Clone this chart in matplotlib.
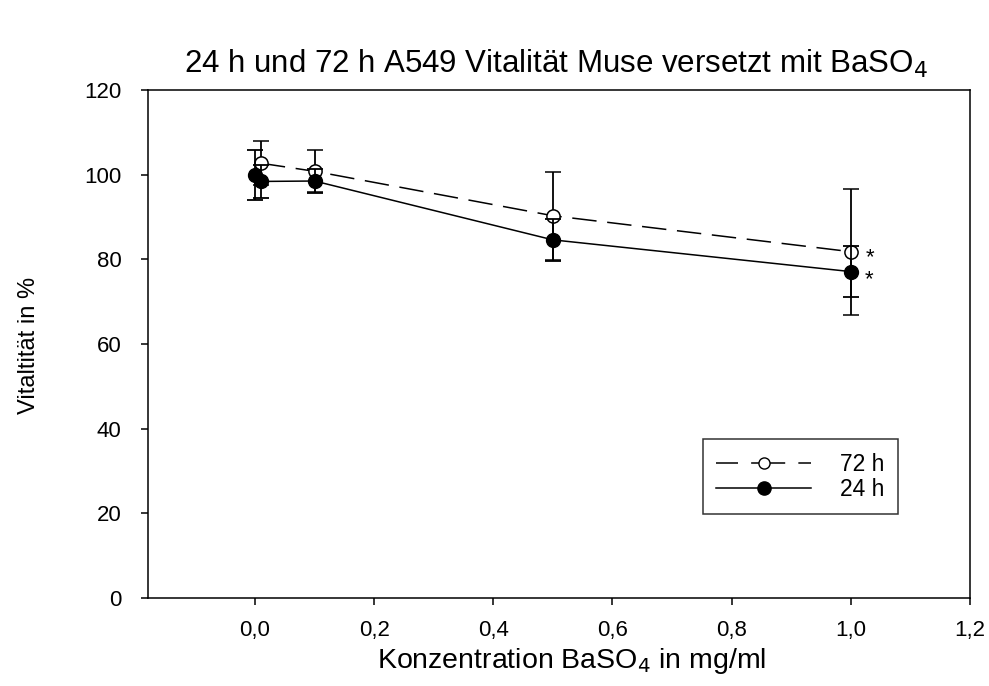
import matplotlib
matplotlib.use("Agg")
import matplotlib.pyplot as plt
from matplotlib.lines import Line2D

plt.rcParams['font.family'] = ['Liberation Sans', 'DejaVu Sans']

# Concentration (mg/ml) and viability (%) with standard deviations
conc_72h = [0.01, 0.1, 0.5, 1.0]
vital_72h = [102.7, 100.8, 90.3, 81.8]
err_72h = [5.2, 5.0, 10.4, 14.9]

conc_24h = [0.0, 0.01, 0.1, 0.5, 1.0]
vital_24h = [100.0, 98.4, 98.5, 84.6, 77.1]
err_24h = [5.9, 3.9, 2.9, 4.9, 6.1]

xticks = [0.0, 0.2, 0.4, 0.6, 0.8, 1.0, 1.2]
xtick_labels = ["0,0", "0,2", "0,4", "0,6", "0,8", "1,0", "1,2"]
yticks = [0, 20, 40, 60, 80, 100, 120]

fig = plt.figure(figsize=(9.89, 6.86), dpi=100)
ax = fig.add_axes([0.1493, 0.1283, 0.8315, 0.7405])

ax.errorbar(conc_72h, vital_72h, yerr=err_72h, color='black', lw=1.1,
            dashes=(16, 7), marker='o', ms=9.5, mfc='white', mec='black',
            mew=1.1, ecolor='black', elinewidth=1.3, capsize=6, capthick=1.3,
            zorder=2)
ax.errorbar(conc_24h, vital_24h, yerr=err_24h, color='black', lw=1.1,
            ls='-', marker='o', ms=10, mfc='black', mec='black',
            ecolor='black', elinewidth=1.3, capsize=6, capthick=1.3,
            zorder=3)

# significance marks
ax.annotate('*', xy=(conc_72h[-1], vital_72h[-1]), xytext=(11, -4),
            textcoords='offset points', fontsize=16, ha='left', va='center')
ax.annotate('*', xy=(conc_24h[-1], vital_24h[-1]), xytext=(10, -6),
            textcoords='offset points', fontsize=16, ha='left', va='center')

ax.set_xlim(-0.18, 1.2)
ax.set_ylim(0, 120)
ax.set_xticks(xticks)
ax.set_xticklabels(xtick_labels)
ax.set_yticks(yticks)
ax.tick_params(direction='out', length=5, width=1.1, top=False, right=False)
ax.tick_params(axis='x', pad=11, labelsize=16)
ax.tick_params(axis='y', pad=14, labelsize=16)
for s in ax.spines.values():
    s.set_linewidth(1.1)

fig.text(0.578, 1 - 661 / 686, 'Konzentration BaSO$_4$ in mg/ml',
         ha='center', va='center', fontsize=20.5)
fig.text(29 / 989, 1 - 345 / 686, 'Vitaltität in %', rotation=90,
         ha='center', va='center', fontsize=17)
fig.text(0.562, 0.907, '24 h und 72 h A549 Vitalität Muse versetzt mit BaSO$_4$',
         ha='center', va='center', fontsize=22.5)

# legend keys: symmetric dash layout around the marker
handles = [
    Line2D([], [], color='black', lw=1.1, dashes=(14.4, 8.6, 22.3, 8.6),
           marker='o', ms=8, mfc='white', mec='black'),
    Line2D([], [], color='black', lw=1.1, ls='-', marker='o', ms=9.5,
           mfc='black', mec='black'),
]
leg = ax.legend(handles, ['72 h', '24 h'], loc='upper left',
                bbox_to_anchor=(0.675, 0.313), borderaxespad=0, fontsize=16.5,
                frameon=True, fancybox=False, edgecolor='black',
                handlelength=4.14, handletextpad=1.25, borderpad=0.6,
                labelspacing=0.08)
leg.get_frame().set_linewidth(1.1)

fig.savefig('out.png', dpi=100)
